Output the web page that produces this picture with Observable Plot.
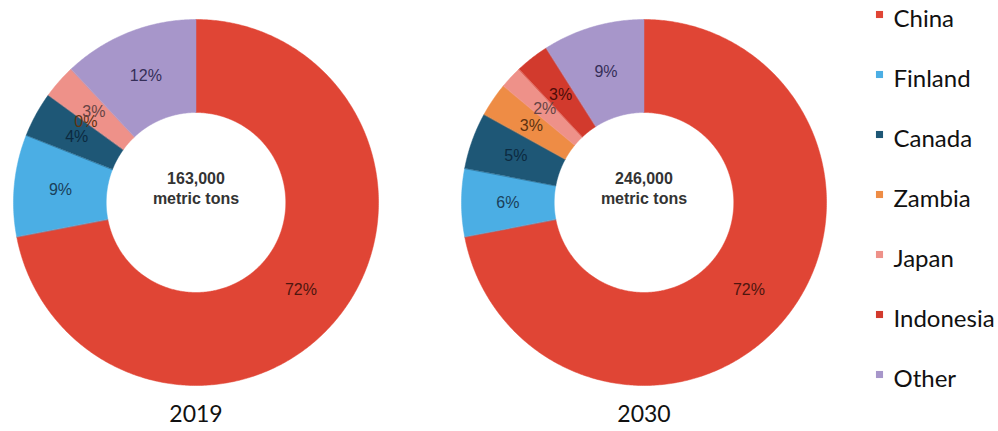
<!DOCTYPE html>
<html>
<head>
<meta charset="utf-8">
<script src="https://cdn.jsdelivr.net/npm/d3@7"></script>
<script src="https://cdn.jsdelivr.net/npm/@observablehq/plot@0.6"></script>
<style>
  html, body { margin: 0; padding: 0; background: #fff; }
  #wrap { display: flex; width: 998px; height: 431px; }
</style>
</head>
<body>
<div id="wrap"></div>
<script>
// ---- data ----
const countries = ["China", "Finland", "Canada", "Zambia", "Japan", "Indonesia", "Other"];
const years = ["2019", "2030"];
const shares2019 = [72, 9, 4, 0, 3, null, 12];
const shares2030 = [72, 6, 5, 3, 2, 3, 9];
const totals = ["163,000", "246,000"];
const totalUnit = "metric tons";

// ---- styles ----
const sliceColors = ["#e04535", "#4baee4", "#1e5776", "#ee8c45", "#ee9189", "#d23a2d", "#a796ca"];
const labelColors = ["#4e160f", "#1a405a", "#0c2a40", "#5e3210", "#664444", "#4e0c08", "#352e58"];
const R_OUT = 183, R_IN = 90, R_LABEL = 136.5;

// ---- derived geometry (polar -> cartesian through Plot's x/y scales) ----
const sharesByYear = {"2019": shares2019, "2030": shares2030};
const slices = [];
const labels = [];
for (const year of years) {
  const rows = countries.map((c, i) => ({country: c, value: sharesByYear[year][i], i}))
    .filter(d => d.value != null);
  const arcs = d3.pie().sort(null).value(d => d.value).startAngle(0).endAngle(2 * Math.PI)(rows);
  for (const a of arcs) {
    const d = a.data;
    labels.push({year, country: d.country, text: d.value + "%", angle: (a.startAngle + a.endAngle) / 2, i: d.i});
    if (a.endAngle - a.startAngle <= 0) continue;
    const n = Math.max(2, Math.ceil((a.endAngle - a.startAngle) / 0.01));
    const key = year + "-" + d.country;
    const pts = [];
    for (let k = 0; k <= n; k++) {
      const t = a.startAngle + (a.endAngle - a.startAngle) * k / n;
      pts.push({key, year, country: d.country, r: R_OUT, t});
    }
    for (let k = n; k >= 0; k--) {
      const t = a.startAngle + (a.endAngle - a.startAngle) * k / n;
      pts.push({key, year, country: d.country, r: R_IN, t});
    }
    slices.push(...pts);
  }
}
const centers = years.map((y, i) => ({year: y, text: totals[i] + "\n" + totalUnit}));

const W_MAIN = 839, H = 431;
const main = Plot.plot({
  width: W_MAIN,
  height: H,
  marginLeft: 0,
  marginRight: 0,
  marginTop: 0,
  marginBottom: 32,
  fx: {domain: years, paddingInner: 0.1314, paddingOuter: 0, label: null},
  x: {domain: [-195, 195], axis: null},
  y: {domain: [-197, 202], axis: null},
  color: {domain: countries, range: sliceColors},
  style: {fontFamily: "Lato, sans-serif", background: "#fff"},
  marks: [
    Plot.line(slices, {
      fx: "year",
      x: d => d.r * Math.sin(d.t),
      y: d => d.r * Math.cos(d.t),
      z: "key",
      fill: "country",
      stroke: "country",
      strokeWidth: 0.5,
      curve: "linear-closed"
    }),
    Plot.text(labels, {
      fx: "year",
      x: d => R_LABEL * Math.sin(d.angle),
      y: d => R_LABEL * Math.cos(d.angle),
      text: "text",
      fill: {value: d => labelColors[d.i], scale: null},
      fontFamily: "Liberation Sans, Arial, sans-serif",
      fontSize: 16
    }),
    Plot.text(centers, {
      fx: "year",
      frameAnchor: "middle",
      text: "text",
      dy: -12,
      lineHeight: 1.25,
      fill: "#333",
      fontWeight: "bold",
      fontSize: 16,
      fontFamily: "Liberation Sans, Arial, sans-serif"
    }),
    Plot.axisFx({anchor: "bottom", tickSize: 0, tickPadding: 6, fontSize: 23, label: null, fill: "#111"})
  ]
});

const legend = Plot.plot({
  width: 998 - W_MAIN,
  height: H,
  marginLeft: 0,
  marginRight: 0,
  marginTop: 0,
  marginBottom: 0,
  y: {type: "point", domain: countries, range: [19, 379], padding: 0, axis: null},
  color: {domain: countries, range: sliceColors},
  style: {fontFamily: "Lato, sans-serif", background: "#fff"},
  marks: [
    Plot.dot(countries, {y: d => d, frameAnchor: "left", dx: 40, dy: -5, symbol: "square", r: 4, fill: d => d}),
    Plot.text(countries, {y: d => d, frameAnchor: "left", dx: 54, text: d => d, fontSize: 24, fill: "#111", textAnchor: "start"})
  ]
});

const wrap = document.getElementById("wrap");
wrap.appendChild(main);
wrap.appendChild(legend);
</script>
</body>
</html>
